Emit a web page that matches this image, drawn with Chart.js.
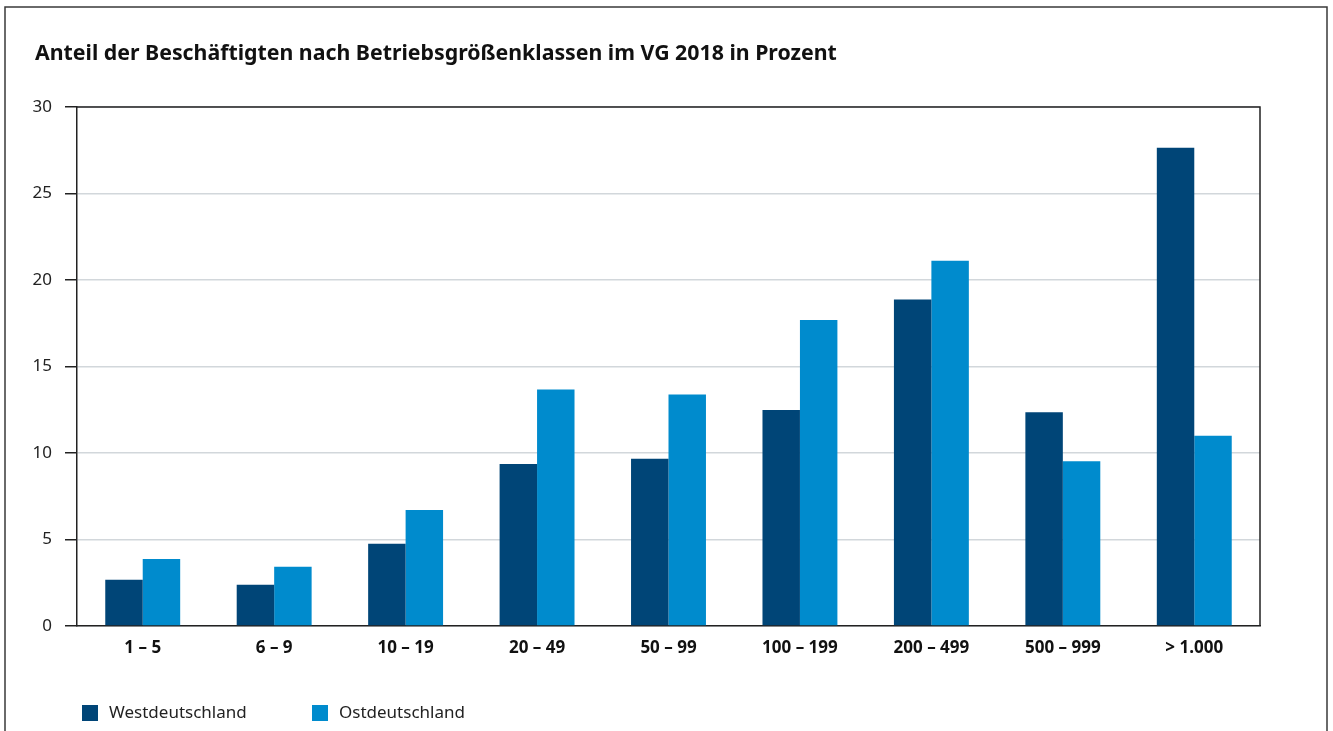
<!DOCTYPE html>
<html>
<head>
<meta charset="utf-8">
<script src="https://cdn.jsdelivr.net/npm/chart.js@4/dist/chart.umd.min.js"></script>
<style>
  html, body { margin: 0; padding: 0; background: #ffffff; }
  #wrap { width: 1333px; height: 731px; position: relative; }
</style>
</head>
<body>
<div id="wrap"><canvas id="c" width="1333" height="731"></canvas></div>
<script>
const titleText = "Anteil der Beschäftigten nach Betriebsgrößenklassen im VG 2018 in Prozent";
const categories = ["1 – 5", "6 – 9", "10 – 19", "20 – 49", "50 – 99", "100 – 199", "200 – 499", "500 – 999", "> 1.000"];
const westLabel = "Westdeutschland";
const eastLabel = "Ostdeutschland";
const westValues = [2.68, 2.38, 4.76, 9.36, 9.67, 12.49, 18.88, 12.36, 27.65];
const eastValues = [3.88, 3.42, 6.70, 13.67, 13.38, 17.69, 21.11, 9.53, 10.99];
const yTicks = [0, 5, 10, 15, 20, 25, 30];

const westColor = "#004577";
const eastColor = "#008bcd";
const fontFamily = "'Noto Sans', 'Open Sans', sans-serif";

const framePlugin = {
  id: "framePlugin",
  beforeDraw(chart) {
    const ctx = chart.ctx;
    ctx.save();
    ctx.fillStyle = "#ffffff";
    ctx.fillRect(0, 0, chart.width, chart.height);
    ctx.restore();
  },
  afterDraw(chart) {
    const ctx = chart.ctx;
    const a = chart.chartArea;
    ctx.save();
    // outer frame
    ctx.strokeStyle = "#3a3a3a";
    ctx.lineWidth = 1.5;
    ctx.beginPath();
    ctx.moveTo(5, chart.height + 5);
    ctx.lineTo(5, 7);
    ctx.lineTo(1327, 7);
    ctx.lineTo(1327, chart.height + 5);
    ctx.stroke();
    // plot frame (top and right)
    ctx.strokeStyle = "#222222";
    ctx.lineWidth = 1.5;
    ctx.beginPath();
    ctx.moveTo(a.left, a.top);
    ctx.lineTo(a.right, a.top);
    ctx.lineTo(a.right, a.bottom);
    ctx.stroke();
    // title
    ctx.fillStyle = "#111111";
    ctx.font = "bold 21.3px " + fontFamily;
    ctx.textBaseline = "middle";
    ctx.textAlign = "left";
    ctx.fillText(titleText, 35, 54);
    // legend
    const items = chart.data.datasets.map(d => ({ label: d.label, color: d.backgroundColor }));
    const xs = [82, 312];
    ctx.font = "17px " + fontFamily;
    items.forEach((it, i) => {
      ctx.fillStyle = it.color;
      ctx.fillRect(xs[i], 705, 16, 16);
      ctx.fillStyle = "#222222";
      ctx.fillText(it.label, xs[i] + 27, 713);
    });
    ctx.restore();
  }
};

new Chart(document.getElementById("c"), {
  type: "bar",
  data: {
    labels: categories,
    datasets: [
      { label: westLabel, data: westValues, backgroundColor: westColor, borderWidth: 0 },
      { label: eastLabel, data: eastValues, backgroundColor: eastColor, borderWidth: 0 }
    ]
  },
  options: {
    responsive: false,
    animation: false,
    devicePixelRatio: 1,
    layout: { padding: { left: 0, right: 73, top: 107, bottom: 65 } },
    datasets: { bar: { categoryPercentage: 0.57, barPercentage: 1.0 } },
    plugins: {
      legend: { display: false },
      title: { display: false },
      tooltip: { enabled: false }
    },
    scales: {
      x: {
        grid: { display: false, drawTicks: false },
        border: { display: true, color: "#222222", width: 1.5 },
        ticks: {
          color: "#111111",
          padding: 12,
          font: { family: fontFamily, size: 17, weight: "bold" },
          maxRotation: 0
        },
        afterFit(scale) { scale.height = 40; }
      },
      y: {
        min: 0,
        max: 30,
        afterBuildTicks(scale) { scale.ticks = yTicks.map(v => ({ value: v })); },
        grid: {
          color: "#d2d7db",
          lineWidth: 1.5,
          drawTicks: true,
          tickLength: 12,
          tickColor: "#222222",
          tickWidth: 1.5
        },
        border: { display: true, color: "#222222", width: 1.5 },
        ticks: {
          color: "#222222",
          padding: 13,
          font: { family: fontFamily, size: 17 }
        },
        afterFit(scale) { scale.width = 77; }
      }
    }
  },
  plugins: [framePlugin]
});
</script>
</body>
</html>
